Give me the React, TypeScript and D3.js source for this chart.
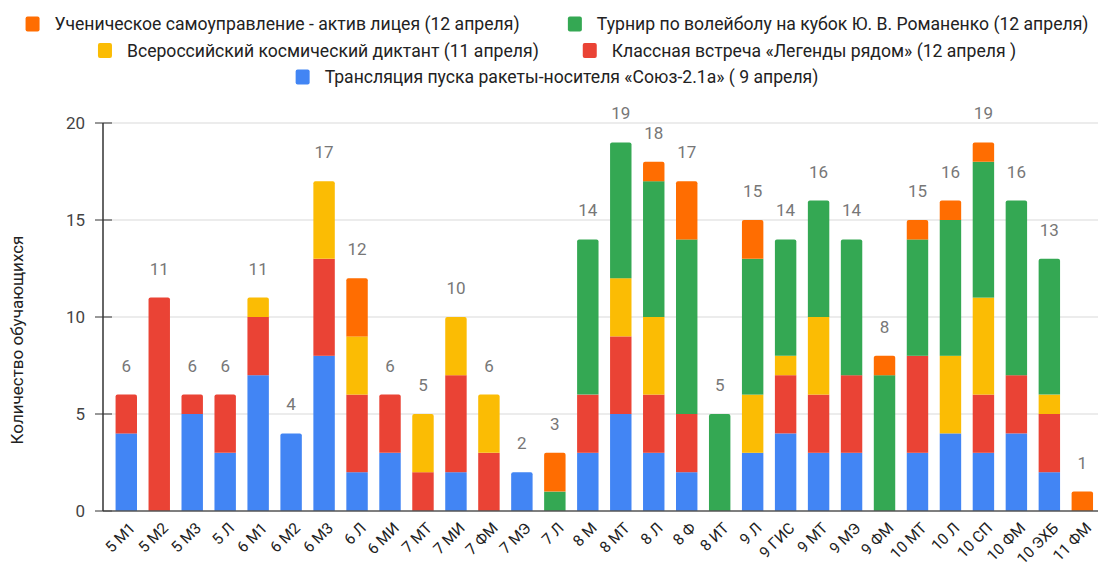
import * as d3 from "d3";

const W = 1102;
const H = 568;
const MARGIN = { top: 123, bottom: 57, left: 103, right: 4 };
const FONT = "Roboto, 'Liberation Sans', Arial, sans-serif";

const categories = [
  "5 М1", "5 М2", "5 М3", "5 Л", "6 М1", "6 М2", "6 М3", "6 Л", "6 МИ", "7 МТ",
  "7 МИ", "7 ФМ", "7 МЭ", "7 Л", "8 М", "8 МТ", "8 Л", "8 Ф", "8 ИТ", "9 Л",
  "9 ГИС", "9 МТ", "9 МЭ", "9 ФМ", "10 МТ", "10 Л", "10 СП", "10 ФМ", "10 ЭХБ", "11 ФМ",
];

// stacked from the bottom up
const launch = [4, 0, 5, 3, 7, 4, 8, 2, 3, 0, 2, 0, 2, 0, 3, 5, 3, 2, 0, 3, 4, 3, 3, 0, 3, 4, 3, 4, 2, 0];
const meeting = [2, 11, 1, 3, 3, 0, 5, 4, 3, 2, 5, 3, 0, 0, 3, 4, 3, 3, 0, 0, 3, 3, 4, 0, 5, 0, 3, 3, 3, 0];
const dictation = [0, 0, 0, 0, 1, 0, 4, 3, 0, 3, 3, 3, 0, 0, 0, 3, 4, 0, 0, 3, 1, 4, 0, 0, 0, 4, 5, 0, 1, 0];
const volleyball = [0, 0, 0, 0, 0, 0, 0, 0, 0, 0, 0, 0, 0, 1, 8, 7, 7, 9, 5, 7, 6, 6, 7, 7, 6, 7, 7, 9, 7, 0];
const council = [0, 0, 0, 0, 0, 0, 0, 3, 0, 0, 0, 0, 0, 2, 0, 0, 1, 3, 0, 2, 0, 0, 0, 1, 1, 1, 1, 0, 0, 1];

const yTicks = [0, 5, 10, 15, 20];

const series = [
  { key: "launch", values: launch, color: "#4285f4", label: "Трансляция пуска ракеты-носителя «Союз-2.1а» ( 9 апреля)" },
  { key: "meeting", values: meeting, color: "#ea4335", label: "Классная встреча «Легенды рядом» (12 апреля )" },
  { key: "dictation", values: dictation, color: "#fbbc04", label: "Всероссийский космический диктант (11 апреля)" },
  { key: "volleyball", values: volleyball, color: "#34a853", label: "Турнир по волейболу на кубок Ю. В. Романенко (12 апреля)" },
  { key: "council", values: council, color: "#ff6d01", label: "Ученическое самоуправление  - актив лицея (12 апреля)" },
];

// legend rows as in the picture
const legendRows = [
  ["council", "volleyball"],
  ["dictation", "meeting"],
  ["launch"],
];

const LEGEND_FONT = 17.6;

let ctx: CanvasRenderingContext2D | null = null;
function textWidth(s: string, size: number) {
  if (!ctx) ctx = document.createElement("canvas").getContext("2d");
  if (!ctx) return s.length * size * 0.5;
  ctx.font = `${size}px ${FONT}`;
  return ctx.measureText(s).width;
}

export default function App() {
  const table = categories.map((c, i) => {
    const row: Record<string, any> = { cat: c };
    series.forEach((s) => (row[s.key] = s.values[i]));
    return row;
  });
  const stacked = d3.stack<Record<string, any>>().keys(series.map((s) => s.key))(table);
  const totals = categories.map((_, i) => d3.sum(series, (s) => s.values[i]));

  const x = d3
    .scaleBand<string>()
    .domain(categories)
    .range([109.8, 1098.8])
    .paddingInner(0.35)
    .paddingOuter(0.175);
  const y = d3
    .scaleLinear()
    .domain([0, 20])
    .range([H - MARGIN.bottom, MARGIN.top]);

  const topKey = categories.map((_, i) => {
    let k = "";
    series.forEach((s) => {
      if (s.values[i] > 0) k = s.key;
    });
    return k;
  });

  const roundTop = (x0: number, y0: number, w: number, h: number, r: number) =>
    `M${x0},${y0 + h}V${y0 + r}Q${x0},${y0} ${x0 + r},${y0}H${x0 + w - r}Q${x0 + w},${y0} ${x0 + w},${y0 + r}V${y0 + h}Z`;

  const byKey = new Map(series.map((s) => [s.key, s]));
  const gap = 44;
  const mark = 14;
  const markGap = 15;
  const rowY = [24, 50.5, 77];
  const legend = legendRows.map((row, ri) => {
    const items = row.map((k) => {
      const s = byKey.get(k)!;
      const w = mark + markGap + textWidth(s.label, LEGEND_FONT);
      return { s, w };
    });
    const total = d3.sum(items, (d) => d.w) + gap * (items.length - 1);
    let cx = 557 - total / 2;
    return items.map((it) => {
      const out = { ...it, x: cx, y: rowY[ri] };
      cx += it.w + gap;
      return out;
    });
  });

  return (
    <svg width={W} height={H} style={{ position: "absolute", left: 0, top: 0 }} fontFamily={FONT}>
      <rect width={W} height={H} fill="#fff" />

      {/* legend */}
      {legend.flat().map((d) => (
        <g key={d.s.key} transform={`translate(${d.x},${d.y})`}>
          <rect x={0} y={-mark / 2 - 0.5} width={mark} height={mark + 1} rx={2} fill={d.s.color} />
          <text x={mark + markGap} y={0} dy="0.35em" fontSize={LEGEND_FONT} fill="#222">
            {d.s.label}
          </text>
        </g>
      ))}

      {/* grid */}
      {yTicks.map((t) => (
        <g key={t}>
          {t > 0 && (
            <line x1={MARGIN.left} x2={W - MARGIN.right} y1={y(t)} y2={y(t)} stroke="#d9d9d9" strokeWidth={1} />
          )}
          <line x1={MARGIN.left - 8} x2={MARGIN.left + 9} y1={y(t)} y2={y(t)} stroke="#333" strokeWidth={1} />
          <text x={MARGIN.left - 18} y={y(t)} dy="0.35em" textAnchor="end" fontSize={17} fill="#444">
            {t}
          </text>
        </g>
      ))}

      {/* bars */}
      {stacked.map((layer) => {
        const s = byKey.get(layer.key)!;
        return layer.map((seg, i) => {
          if (seg[1] - seg[0] <= 0) return null;
          const x0 = x(categories[i])!;
          const y0 = y(seg[1]);
          const h = y(seg[0]) - y0;
          if (topKey[i] === layer.key) {
            return <path key={layer.key + i} d={roundTop(x0, y0, x.bandwidth(), h, 2)} fill={s.color} />;
          }
          return <rect key={layer.key + i} x={x0} y={y0} width={x.bandwidth()} height={h} fill={s.color} />;
        });
      })}

      {/* axes */}
      <line x1={MARGIN.left} x2={W - MARGIN.right} y1={y(0)} y2={y(0)} stroke="#555" strokeWidth={1.5} />
      <line x1={MARGIN.left} x2={MARGIN.left} y1={y(20)} y2={y(0)} stroke="#333" strokeWidth={1.5} />

      {/* totals */}
      {totals.map((t, i) => (
        <text
          key={i}
          x={x(categories[i])! + x.bandwidth() / 2}
          y={y(t) - 23}
          textAnchor="middle"
          fontSize={17}
          fill="#777"
        >
          {t}
        </text>
      ))}

      {/* x labels */}
      {categories.map((c) => (
        <text
          key={c}
          transform={`translate(${x(c)! + x.bandwidth() / 2 + 10},${y(0) + 18}) rotate(-45)`}
          textAnchor="end"
          fontSize={15.5}
          fill="#222"
        >
          {c}
        </text>
      ))}

      {/* y title */}
      <text
        transform={`translate(23,${340}) rotate(-90)`}
        textAnchor="middle"
        fontSize={17}
        fill="#222"
      >
        Количество обучающихся
      </text>
    </svg>
  );
}
